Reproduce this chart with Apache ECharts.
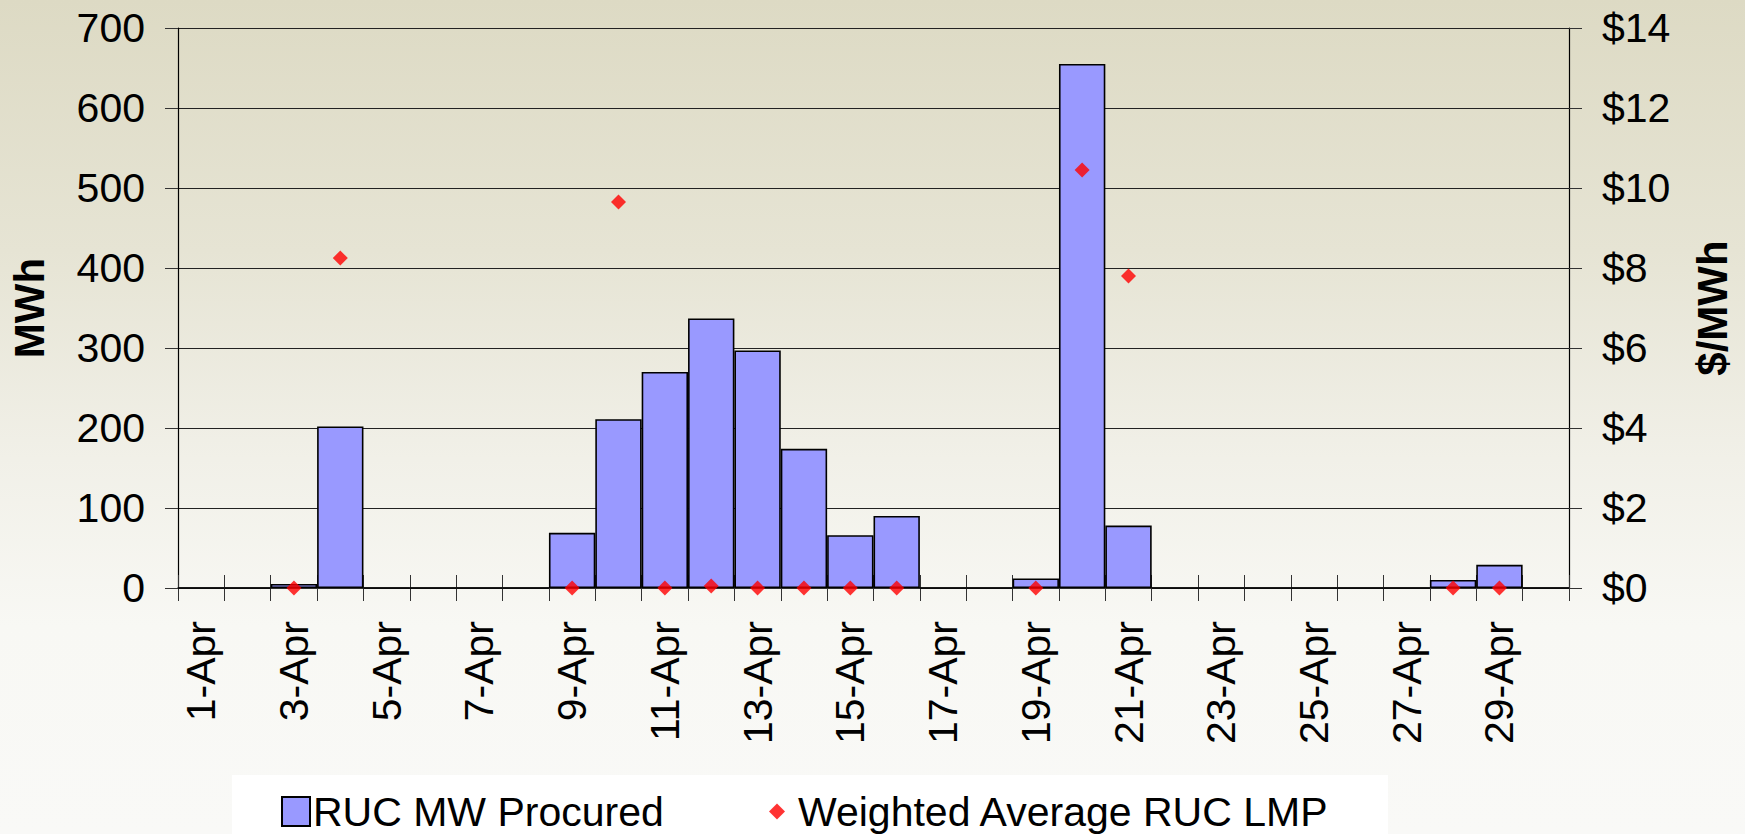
<!DOCTYPE html>
<html>
<head>
<meta charset="utf-8">
<script src="https://cdn.jsdelivr.net/npm/echarts@6/dist/echarts.min.js"></script>
<style>
  html, body { margin: 0; padding: 0; }
  #chart {
    width: 1745px; height: 834px;
    background: linear-gradient(to bottom, #dddac4 0%, #e6e4d4 30%, #f1f0e8 55%, #f8f8f4 75%, #f9f9f7 100%);
  }
</style>
</head>
<body>
<div id="chart"></div>
<script>
// days of April
const days = [];
for (let d = 1; d <= 30; d++) days.push(d + "-Apr");

// RUC MW procured (MWh), left axis
const mwProcured = [0, 0, 5, 202, 0, 0, 0, 0, 69, 211, 270, 337, 297, 174, 66, 90, 0, 0, 12, 655, 78, 0, 0, 0, 0, 0, 0, 10, 29, 0];

// weighted average RUC LMP ($/MWh), right axis
const ruclmp = [null, null, 0, 8.25, null, null, null, null, 0, 9.65, 0, 0.05, 0, 0, 0, 0, null, null, 0, 10.45, 7.8, null, null, null, null, null, null, 0, 0, null];

const FONT = "Liberation Sans, Arial, sans-serif";

const chart = echarts.init(document.getElementById("chart"), null, { renderer: "svg" });

chart.setOption({
    backgroundColor: "transparent",
    animation: false,
    grid: { left: 178, right: 176, top: 28, bottom: 246, containLabel: false },
    graphic: [{
        type: "rect",
        z: -1,
        shape: { x: 232, y: 775, width: 1156, height: 70 },
        style: { fill: "#ffffff" }
    }],
    legend: [{
        data: [{ name: "RUC MW Procured", icon: "rect" }],
        left: 276, top: 786,
        itemWidth: 28, itemHeight: 29,
        itemGap: 0,
        textStyle: { fontFamily: FONT, fontSize: 41, color: "#000", padding: [0, 0, 0, -2] }
    }, {
        data: [{ name: "Weighted Average RUC LMP", icon: "diamond" }],
        left: 764, top: 786,
        itemWidth: 16, itemHeight: 16,
        textStyle: { fontFamily: FONT, fontSize: 41, color: "#000", padding: [0, 0, 0, 8] }
    }],
    xAxis: [{
        type: "category",
        data: days,
        boundaryGap: true,
        axisLine: { lineStyle: { color: "#333", width: 1.5 } },
        axisTick: { show: true, interval: 0, length: 13, lineStyle: { color: "#333", width: 1 } },
        axisLabel: { interval: 1, rotate: 90, margin: 33, fontFamily: FONT, fontSize: 41, color: "#000" },
        splitLine: { show: false }
    }, {
        type: "category",
        data: days,
        position: "bottom",
        boundaryGap: true,
        axisLine: { show: false },
        axisTick: { show: true, inside: true, interval: 0, length: 13, lineStyle: { color: "#333", width: 1 } },
        axisLabel: { show: false }
    }],
    yAxis: [{
        type: "value",
        min: 0, max: 700, interval: 100,
        name: "MWh",
        nameLocation: "middle",
        nameRotate: 90,
        nameGap: 128,
        nameTextStyle: { fontFamily: FONT, fontSize: 42, fontWeight: "bold", color: "#000" },
        axisLine: { show: true, lineStyle: { color: "#000", width: 1.2 } },
        axisTick: { show: true, length: 13, lineStyle: { color: "#333" } },
        axisLabel: { margin: 33, fontFamily: FONT, fontSize: 41, color: "#000" },
        splitLine: { show: true, lineStyle: { color: "#222", width: 1 } }
    }, {
        type: "value",
        min: 0, max: 14, interval: 2,
        position: "right",
        name: "$/MWh",
        nameLocation: "middle",
        nameRotate: 90,
        nameGap: 122,
        nameTextStyle: { fontFamily: FONT, fontSize: 42, fontWeight: "bold", color: "#000" },
        axisLine: { show: true, lineStyle: { color: "#000", width: 1.2 } },
        axisTick: { show: true, length: 13, lineStyle: { color: "#333" } },
        axisLabel: { margin: 33, fontFamily: FONT, fontSize: 41, color: "#000", formatter: v => "$" + v },
        splitLine: { show: false }
    }],
    series: [{
        name: "RUC MW Procured",
        type: "bar",
        xAxisIndex: 0,
        yAxisIndex: 0,
        data: mwProcured,
        barCategoryGap: 0,
        itemStyle: { color: "#9999ff", borderColor: "#000", borderWidth: 1.6 }
    }, {
        name: "Weighted Average RUC LMP",
        type: "scatter",
        xAxisIndex: 0,
        yAxisIndex: 1,
        data: ruclmp,
        symbol: "diamond",
        symbolSize: 15,
        z: 5,
        itemStyle: { color: "#ff0000" }
    }]
});
</script>
</body>
</html>
